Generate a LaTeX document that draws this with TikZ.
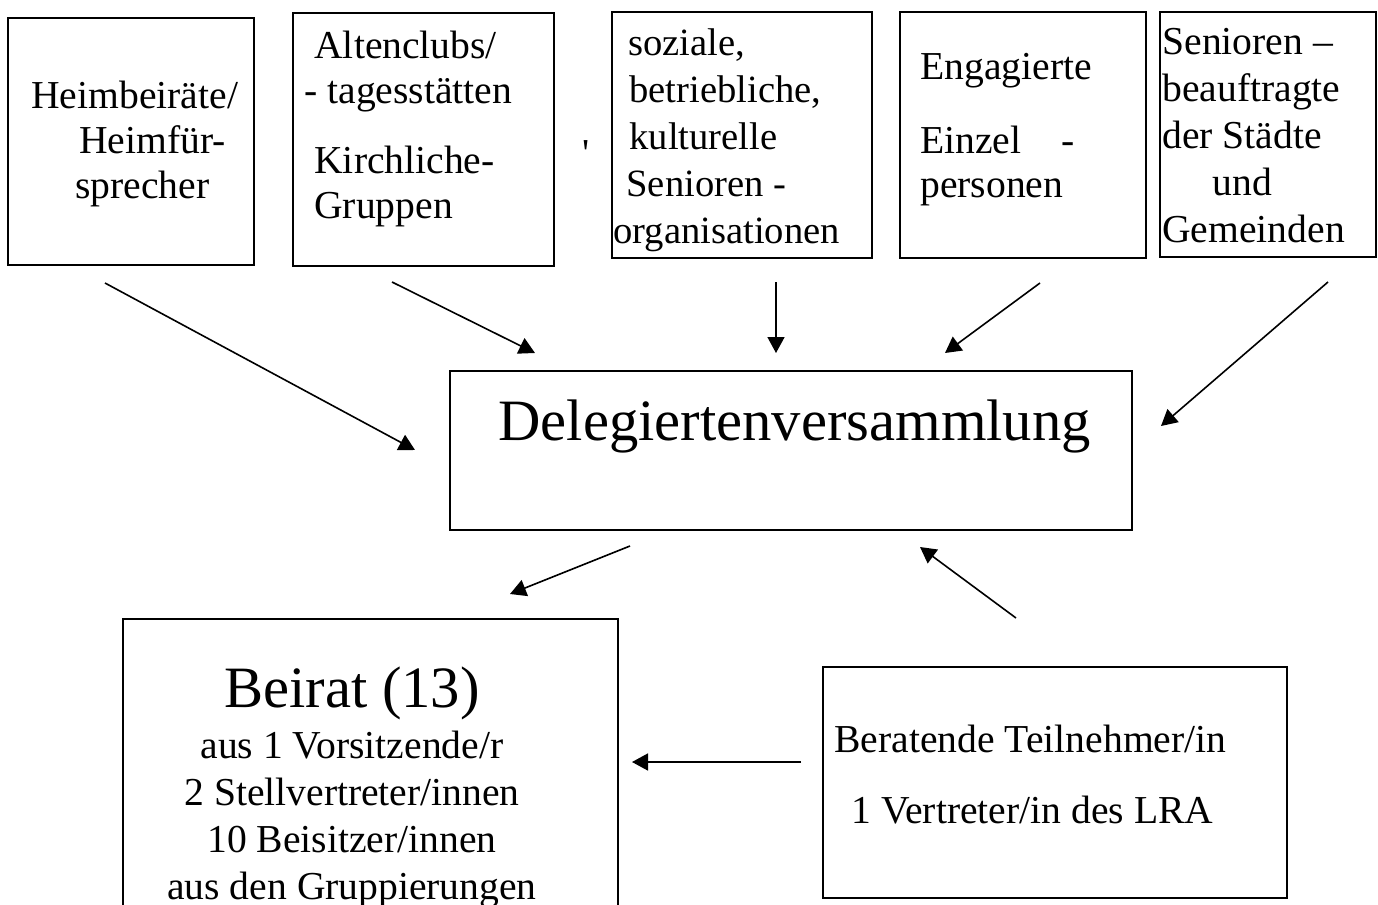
\documentclass[tikz,border=0pt]{standalone}
\usepackage{fontspec}
\setmainfont{Liberation Serif}
\usetikzlibrary{arrows.meta,fit}
\tikzset{>={Triangle[length=8pt,width=8.5pt]}}
\tikzset{
  box/.style={draw, line width=0.8pt, inner sep=0pt},
  txt/.style={inner sep=0pt, align=left, anchor=north west,
    font=\fontsize{19.8}{23.5}\selectfont},
  big/.style={inner sep=0pt, font=\fontsize{29.3}{35}\selectfont},
  link/.style={->, line width=0.8pt},
}

\begin{document}
\begin{tikzpicture}[x=0.5pt, y=-0.5pt]
        \useasboundingbox (0,0) rectangle (1378,905);
        \clip (0,0) rectangle (1378,905);

        % top row: groups
        \node[box, fit={(8,18) (254,265)}] (heim) {};
        \node[txt, font=\fontsize{19.8}{22.5}\selectfont] (heimtxt) at (31,81)
            {Heimbeiräte/\\\hspace*{24pt}Heimfür-\\\hspace*{22pt}sprecher};

        \node[box, fit={(293,13) (554,266)}] (alten) {};
        \node[txt, font=\fontsize{19.8}{22.5}\selectfont] (altentxt) at (304,31)
            {\hspace*{5pt}Altenclubs/\\- tagesstätten\\[12.5pt]\hspace*{5pt}Kirchliche-\\\hspace*{5pt}Gruppen};

        \node[anchor=base, inner sep=0pt, font=\fontsize{19.8}{23.5}\selectfont] (tick) at (586,166)
            {\textquotesingle};

        \node[box, fit={(612,12) (872,258)}] (org) {};
        \node[txt, font=\fontsize{19.3}{23.5}\selectfont] (orgtxt) at (613,28)
            {\hspace*{7.5pt}soziale,\\\hspace*{8pt}betriebliche,\\\hspace*{8pt}kulturelle\\\hspace*{6.5pt}Senioren -\\organisationen};

        \node[box, fit={(900,12) (1146,258)}] (einzel) {};
        \node[txt, font=\fontsize{19.8}{22}\selectfont] (einzeltxt) at (920,53)
            {Engagierte\\[15pt]Einzel\hspace{20pt}-\\personen};

        \node[box, fit={(1160,12) (1376,257)}] (beauf) {};
        \node[txt] (beauftxt) at (1162,28)
            {Senioren –\\beauftragte\\der Städte\\\hspace*{25pt}und\\Gemeinden};

        % middle
        \node[box, fit={(450,371) (1132,530)}] (deleg) {};
        \node[big, anchor=base west] (delegtxt) at (498,440) {Delegiertenversammlung};

        % bottom
        \node[box, fit={(123,619) (618,930)}] (beirat) {};
        \node[txt, align=center, anchor=north] (beirattxt) at (352,666)
            {{\fontsize{29.3}{35}\selectfont Beirat (13)}\\[2pt]aus 1 Vorsitzende/r\\2 Stellvertreter/innen\\10 Beisitzer/innen\\aus den Gruppierungen};

        \node[box, fit={(823,667) (1287,898)}] (berat) {};
        \node[txt] (berattxt) at (834,725)
            {Beratende Teilnehmer/in\\[12pt]\hspace*{8.5pt}1 Vertreter/in des LRA};

        % arrow ends
        \coordinate (heimout) at (105,283);
        \coordinate (heimin) at (415,450);
        \coordinate (altenout) at (392,282);
        \coordinate (altenin) at (535,353);
        \coordinate (orgout) at (776,282);
        \coordinate (orgin) at (776,353);
        \coordinate (einzelout) at (1040,283);
        \coordinate (einzelin) at (945,353);
        \coordinate (beaufout) at (1328,282);
        \coordinate (beaufin) at (1161,426);
        \coordinate (delegout) at (630,546);
        \coordinate (beiratin) at (510,594);
        \coordinate (beratup) at (1016,618);
        \coordinate (delegin) at (920,547);
        \coordinate (beratout) at (801,762);
        \coordinate (beiratside) at (632,762);

        \draw[link] (heimout) -- (heimin);
        \draw[link] (altenout) -- (altenin);
        \draw[link] (orgout) -- (orgin);
        \draw[link] (einzelout) -- (einzelin);
        \draw[link] (beaufout) -- (beaufin);
        \draw[link] (delegout) -- (beiratin);
        \draw[link] (beratup) -- (delegin);
        \draw[link] (beratout) -- (beiratside);
\end{tikzpicture}
\end{document}
